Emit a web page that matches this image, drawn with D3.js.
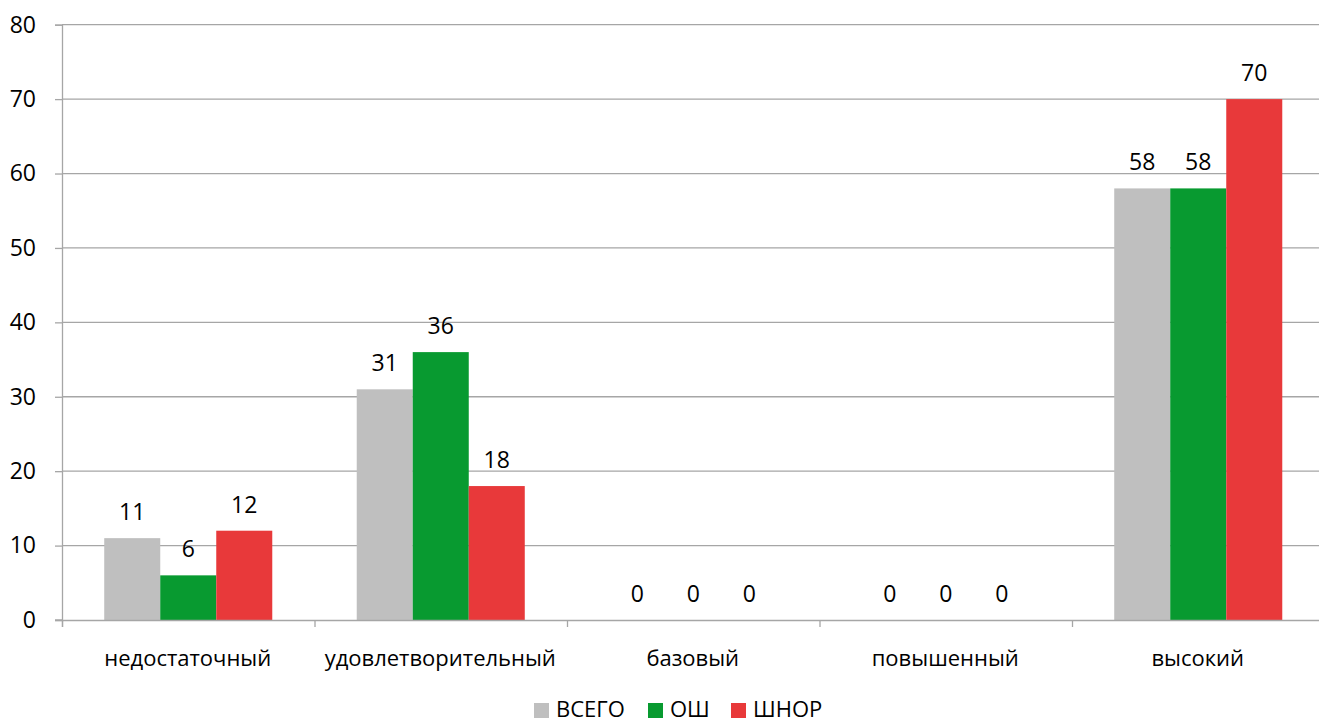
<!DOCTYPE html>
<html><head><meta charset="utf-8">
<script src="https://cdn.jsdelivr.net/npm/d3@7"></script>
<style>body{margin:0;background:#fff}svg{display:block}text{font-family:"Open Sans",sans-serif;fill:#000}</style>
</head><body><svg id="c" width="1319" height="722"></svg>
<script>
const categories = ["недостаточный","удовлетворительный","базовый","повышенный","высокий"];
const seriesNames = ["ВСЕГО","ОШ","ШНОР"];
const vsego = [11,31,0,0,58];
const osh = [6,36,0,0,58];
const shnor = [12,18,0,0,70];
const yTicks = [0,10,20,30,40,50,60,70,80];
const colors = ["#bfbfbf","#089a30","#e8393a"];
const seriesValues = [vsego, osh, shnor];

(function(){
const svg = d3.select("#c");
const mLeft = 62, mRight = 1324.5, mTop = 24.7, mBottom = 620;
const fs = 22, fn = 23;
const x0 = d3.scaleBand().domain(categories).range([mLeft, mRight]).padding(0);
const x1 = d3.scaleBand().domain(seriesNames).range([0, x0.bandwidth()]).paddingInner(0).paddingOuter(0.754);
const y = d3.scaleLinear().domain([0,80]).range([mBottom, mTop]);

svg.append("g").selectAll("line").data(yTicks.filter(d=>d>0)).join("line")
  .attr("x1", mLeft).attr("x2", 1319).attr("y1", d=>y(d)).attr("y2", d=>y(d))
  .attr("stroke","#a6a6a6").attr("stroke-width",1.3);

const yAxis = d3.axisLeft(y).tickValues(yTicks).tickSize(7).tickPadding(19).tickFormat(d3.format("d"));
const gy = svg.append("g").attr("transform",`translate(${mLeft},0)`).call(yAxis);
gy.select(".domain").attr("stroke","#a6a6a6").attr("stroke-width",1.3);
gy.selectAll(".tick line").attr("stroke","#a6a6a6").attr("stroke-width",1.3);
gy.selectAll("text").attr("font-size",fn).attr("font-family","Open Sans").attr("fill","#000");

const data = [];
categories.forEach((c,i)=>seriesNames.forEach((s,j)=>data.push({c,s,v:seriesValues[j][i],j})));
svg.append("g").selectAll("rect").data(data).join("rect")
  .attr("x", d=>x0(d.c)+x1(d.s)).attr("width", x1.bandwidth())
  .attr("y", d=>y(d.v)).attr("height", d=>mBottom-y(d.v))
  .attr("fill", d=>colors[d.j]);

const xAxis = d3.axisBottom(d3.scaleLinear().domain([0,5]).range([mLeft,mRight])).tickValues([0,1,2,3,4,5]).tickSize(7).tickFormat("");
const gx = svg.append("g").attr("transform",`translate(0,${mBottom})`).call(xAxis);
gx.select(".domain").attr("stroke","#a6a6a6").attr("stroke-width",1.3);
gx.selectAll(".tick line").attr("stroke","#a6a6a6").attr("stroke-width",1.3);
svg.append("line").attr("x1",mLeft-7).attr("x2",mLeft).attr("y1",mBottom).attr("y2",mBottom).attr("stroke","#a6a6a6").attr("stroke-width",1.3);

svg.append("g").selectAll("text").data(categories).join("text")
  .attr("x", d=>x0(d)+x0.bandwidth()/2-0.5).attr("y", 666).attr("text-anchor","middle")
  .attr("font-size",fs).text(d=>d);

svg.append("g").selectAll("text").data(data).join("text")
  .attr("x", d=>x0(d.c)+x1(d.s)+x1.bandwidth()/2).attr("y", d=>y(d.v)-18)
  .attr("text-anchor","middle").attr("font-size",fn).text(d=>d.v);

const lg = svg.append("g");
const legendX = [534, 648, 731];
seriesNames.forEach((s,j)=>{
  lg.append("rect").attr("x",legendX[j]).attr("y",703).attr("width",15).attr("height",15).attr("fill",colors[j]);
  lg.append("text").attr("x",legendX[j]+22).attr("y",717).attr("font-size",fs).text(s);
});
})();
</script></body></html>
